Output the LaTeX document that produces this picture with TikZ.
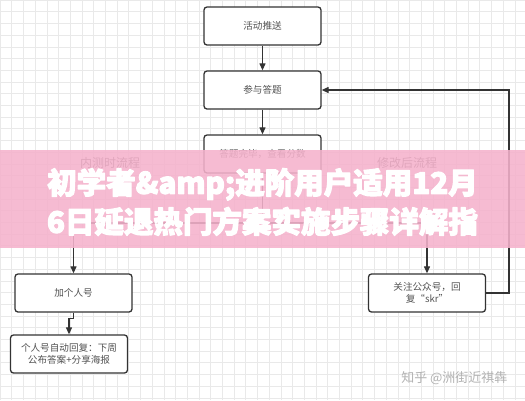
\documentclass[tikz,border=0pt]{standalone}
\usepackage{fontspec}
\newfontfamily\cjk{Noto Sans CJK SC}
\usetikzlibrary{arrows.meta}
\definecolor{ink}{HTML}{333333}
\definecolor{gridc}{HTML}{E9E9E9}
\definecolor{bannerc}{RGB}{245,178,204}
\newcommand{\heavyon}{\special{pdf:literal direct 2 Tr 1.1 w 1 1 1 RG 1 j}}
\newcommand{\heavyoff}{\special{pdf:literal direct 0 Tr}}
\begin{document}
\begin{tikzpicture}[x=1pt,y=-1pt,
  box/.style={draw=ink,line width=1.3pt,rounded corners=3pt,fill=white,
    minimum width=117pt,minimum height=38pt,inner sep=2pt,
    font=\cjk\fontsize{9.6}{12}\selectfont,text=ink!85,align=center},
  conn/.style={draw=ink,line width=1.2pt},
  arr/.style={conn,-{Triangle[length=7pt,width=6pt]}},
  lbl/.style={font=\cjk\fontsize{12}{14}\selectfont,text=black!70}]
\useasboundingbox (0,0) rectangle (525,400);
\fill[white] (0,0) rectangle (525,400);
\draw[gridc,line width=0.5pt,step=11.7pt] (0,0) grid (525,400);
% nodes
\node[box] (a1) at (262.5,26) {活动推送};
\node[box] (a2) at (262.5,90) {参与答题};
\node[box] (a3) at (262.5,154) {答题完毕，查看分数};
\node[box] (b1) at (73.5,293) {加个人号};
\node[box] (b2) at (69,354) {个人号自动回复：下周\\公布答案+分享海报};
\node[box] (c1) at (427,293) {关注公众号，回\\复“skr”};
\node[lbl] (l1) at (110,163) {内测时流程};
\node[lbl] (l2) at (407,163) {修改后流程};
\coordinate (split) at (262.5,223);
\coordinate (rt) at (509,293);
\coordinate (rtop) at (509,90);
% connectors
\draw[arr] (a1.south) -- (a2.north);
\draw[arr] (a2.south) -- (a3.north);
\draw[conn] (a3.south) -- (split);
\draw[arr] (split) -| (b1.north);
\draw[arr] (split) -| (c1.north);
\draw[arr] (b1.south) -- ++(0,6) -| (b2.north);
\draw[arr] (c1.east) -- (rt) -- (rtop) -- (a2.east);
% watermark
\node[font=\cjk\fontsize{13}{15}\selectfont,text=black!30,anchor=east] (wm) at (511,378) {知乎 @洲街近祺犇};
% banner
\fill[bannerc,opacity=0.88] (0,150) rectangle (525,248);
\node[font=\cjk\bfseries\fontsize{29.5}{39}\selectfont,text=white,align=center] (ban) at (262.5,202) {\heavyon 初学者\&amp;进阶用户适用12月\heavyoff\\\heavyon 6日延退热门方案实施步骤详解指\heavyoff};
\end{tikzpicture}
\end{document}
